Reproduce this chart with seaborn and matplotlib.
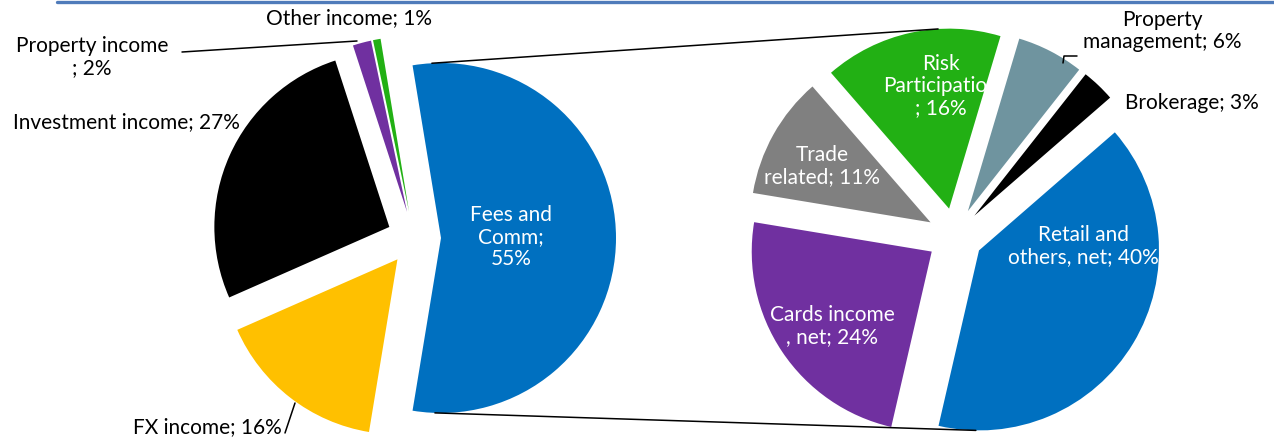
import matplotlib
matplotlib.use("Agg")  # no display in the sandbox
import matplotlib.pyplot as plt
import seaborn as sns
import numpy as np

# Left pie: total income split
left_labels = ["Fees and\nComm;\n", "FX income; ", "Investment income; ", "Property income\n; ", "Other income; "]
left_values = [55.2, 15.8, 26.6, 1.7, 0.7]
left_colors = ["#0070C0", "#FFC000", "#000000", "#7030A0", "#22B014"]

# Right pie: breakdown of fees and commissions
right_labels = ["Risk\nParticipation\n; ", "Property\nmanagement; ", "Brokerage; ",
                "Retail and\nothers, net; ", "Cards income\n, net; ", "Trade\nrelated; "]
right_values = [16, 6, 3, 40, 24, 11]
right_colors = ["#22B014", "#6F949F", "#000000", "#0070C0", "#7030A0", "#808080"]

W, H = 1274, 437

sns.set_theme(style="white")
plt.rcParams["font.family"] = ["Lato", "DejaVu Sans"]

fig = plt.figure(figsize=(W / 100, H / 100), dpi=100)
ax = fig.add_axes([0, 0, 1, 1])

# left pie, fees slice centred on the right side
# (explode is in data units here, i.e. pixels)
start_left = 180 * left_values[0] / sum(left_values)
wl, _ = ax.pie(left_values, colors=left_colors, center=(414, H - 238), radius=175,
               explode=[27] * len(left_values), startangle=start_left,
               counterclock=False, wedgeprops=dict(linewidth=0))

wr, _ = ax.pie(right_values, colors=right_colors, center=(955, H - 236), radius=180,
               explode=[28] * len(right_values), startangle=131,
               counterclock=False, wedgeprops=dict(linewidth=0))

ax.set_xlim(0, W)
ax.set_ylim(0, H)
ax.set_aspect("equal")
ax.axis("off")


def arc_point(w, ang):
    a = np.deg2rad(ang)
    return w.center[0] + w.r * np.cos(a), w.center[1] + w.r * np.sin(a)


# connector lines between the two pies
for lw_ang, rw, rw_ang in [(93, wr[0], 93.5), (-92, wr[3], -91)]:
    p1 = arc_point(wl[0], lw_ang)
    p2 = arc_point(rw, rw_ang)
    ax.plot([p1[0], p2[0]], [p1[1], p2[1]], color="black", lw=1.1)

fs = 15
# label positions in picture pixels (x, y from top), alignment, colour
left_pos = [(511, 237, "center", "white"), (133, 427, "left", "black"),
            (13, 122, "left", "black"), (92, 57, "center", "black"),
            (349, 18, "center", "black")]
right_pos = [(941, 86, "center", "white"), (1162, 31, "center", "black"),
             (1125, 103, "left", "black"), (1083, 246, "center", "white"),
             (832, 326, "center", "white"), (822, 166, "center", "white")]

for lbl, v, (x, y, ha, c) in zip(left_labels, left_values, left_pos):
    ax.text(x, H - y, f"{lbl}{round(v)}%", ha=ha, va="center", color=c,
            fontsize=fs, linespacing=1.15, zorder=1 if c == "black" else 5)
for lbl, v, (x, y, ha, c) in zip(right_labels, right_values, right_pos):
    ax.text(x, H - y, f"{lbl}{round(v)}%", ha=ha, va="center", color=c,
            fontsize=fs, linespacing=1.15, zorder=5)

# leader lines
ax.plot([182, 357], [H - 52, H - 41], color="black", lw=1.1)
ax.plot([285, 295], [H - 433, H - 403], color="black", lw=1.1)
ax.plot([1063, 1064, 1077], [H - 63, H - 56, H - 56], color="black", lw=1.1)

# thin blue rule along the top
fig.add_artist(plt.Line2D([57 / W, 1], [1 - 1.5 / H, 1 - 1.5 / H], color="#4F7BBA", lw=2.4))

fig.savefig("out.png", dpi=100)
